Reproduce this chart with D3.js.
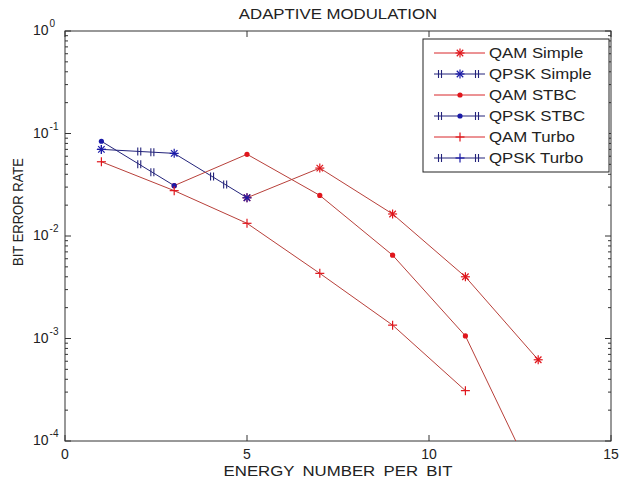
<!DOCTYPE html>
<html>
<head>
<meta charset="utf-8">
<script src="https://cdn.jsdelivr.net/npm/d3@7"></script>
<style>
  body { margin: 0; background: #fff; }
  text { font-family: "Liberation Sans", Arial, sans-serif; fill: #222; }
</style>
</head>
<body>
<div id="chart"></div>
<script>
// data
const qamSimpleX = [5, 7, 9, 11, 13];
const qamSimpleY = [0.0236, 0.046, 0.0164, 0.0040, 0.00062];
const qpskSimpleX = [1, 3, 5];
const qpskSimpleY = [0.070, 0.064, 0.0236];
const qamStbcX = [3, 5, 7, 9, 11, 13];
const qamStbcY = [0.031, 0.0627, 0.0249, 0.0065, 0.00106, 0.000035];
const qpskStbcX = [1, 3];
const qpskStbcY = [0.084, 0.031];
const qamTurboX = [1, 3, 5, 7, 9, 11];
const qamTurboY = [0.053, 0.0277, 0.0133, 0.00432, 0.00135, 0.00031];
const qpskTurboX = [1];
const qpskTurboY = [0.070];

const seriesNames = ["QAM Simple", "QPSK Simple", "QAM STBC", "QPSK STBC", "QAM Turbo", "QPSK Turbo"];
const xTicks = [0, 5, 10, 15];
const yExponents = [0, -1, -2, -3, -4];

const width = 621;
const height = 482;
const margin = { top: 31, right: 10, bottom: 41, left: 65 };
const stretch = 1.2;   // the original lettering is wider than Arial

const series = [
    { name: seriesNames[0], x: qamSimpleX, y: qamSimpleY, marker: "star", kind: "qam" },
    { name: seriesNames[1], x: qpskSimpleX, y: qpskSimpleY, marker: "star", kind: "qpsk" },
    { name: seriesNames[2], x: qamStbcX, y: qamStbcY, marker: "dot", kind: "qam" },
    { name: seriesNames[3], x: qpskStbcX, y: qpskStbcY, marker: "dot", kind: "qpsk" },
    { name: seriesNames[4], x: qamTurboX, y: qamTurboY, marker: "plus", kind: "qam" },
    { name: seriesNames[5], x: qpskTurboX, y: qpskTurboY, marker: "plus", kind: "qpsk" }
];

const lineColor = { qam: "#b8403a", qpsk: "#23237a" };
const markColor = { qam: "#e0161c", qpsk: "#1a1aa8" };

const x = d3.scaleLinear().domain([0, 15]).range([margin.left, width - margin.right]);
const y = d3.scaleLog().domain([1e-4, 1]).range([height - margin.bottom, margin.top]);

const svg = d3.select("#chart")
    .append("svg")
    .attr("width", width)
    .attr("height", height);

svg.append("defs").append("clipPath")
    .attr("id", "plot-clip")
    .append("rect")
    .attr("x", x(0))
    .attr("y", y(1))
    .attr("width", x(15) - x(0))
    .attr("height", y(1e-4) - y(1));

// Axes (MATLAB style, ticks inward on all four sides)
const yBottom = y(1e-4), yTop = y(1), xLeft = x(0), xRight = x(15);
const axisColor = "#333";

const frame = svg.append("g");
frame.append("rect")
    .attr("x", xLeft).attr("y", yTop)
    .attr("width", xRight - xLeft).attr("height", yBottom - yTop)
    .attr("fill", "none").attr("stroke", axisColor).attr("stroke-width", 1);

xTicks.forEach(t => {
    frame.append("line").attr("x1", x(t)).attr("x2", x(t)).attr("y1", yBottom).attr("y2", yBottom - 6).attr("stroke", axisColor);
    frame.append("line").attr("x1", x(t)).attr("x2", x(t)).attr("y1", yTop).attr("y2", yTop + 6).attr("stroke", axisColor);
    frame.append("text")
        .attr("x", x(t)).attr("y", yBottom + 18)
        .attr("text-anchor", "middle")
        .attr("font-size", 14)
        .text(t);
});

yExponents.forEach(e => {
    const v = Math.pow(10, e);
    frame.append("line").attr("x1", xLeft).attr("x2", xLeft + 6).attr("y1", y(v)).attr("y2", y(v)).attr("stroke", axisColor);
    frame.append("line").attr("x1", xRight).attr("x2", xRight - 6).attr("y1", y(v)).attr("y2", y(v)).attr("stroke", axisColor);
    const label = frame.append("text")
        .attr("x", 33).attr("y", y(v) + 4)
        .attr("font-size", 14);
    label.append("tspan").text("10");
    label.append("tspan").attr("dx", 1).attr("dy", -8).attr("font-size", 10).text(e);
    if (e > -4) {
        d3.range(2, 10).forEach(m => {
            const mv = m * Math.pow(10, e - 1);
            frame.append("line").attr("x1", xLeft).attr("x2", xLeft + 3).attr("y1", y(mv)).attr("y2", y(mv)).attr("stroke", axisColor);
            frame.append("line").attr("x1", xRight).attr("x2", xRight - 3).attr("y1", y(mv)).attr("y2", y(mv)).attr("stroke", axisColor);
        });
    }
});

// Titles
svg.append("text")
    .attr("transform", `translate(${(xLeft + xRight) / 2},19) scale(${stretch},1)`)
    .attr("text-anchor", "middle").attr("font-size", 14)
    .text("ADAPTIVE MODULATION");

svg.append("text")
    .attr("transform", `translate(338,476) scale(${stretch},1)`)
    .attr("text-anchor", "middle").attr("font-size", 14)
    .attr("word-spacing", 3)
    .text("ENERGY NUMBER PER BIT");

svg.append("text")
    .attr("transform", "translate(23,212) rotate(-90)")
    .attr("text-anchor", "middle").attr("font-size", 14)
    .attr("textLength", 108).attr("lengthAdjust", "spacingAndGlyphs")
    .text("BIT ERROR RATE");

// Markers
function drawMarker(g, cx, cy, type, color) {
    const s = 4.5;
    if (type === "star" || type === "plus") {
        g.append("line").attr("x1", cx - s).attr("x2", cx + s).attr("y1", cy).attr("y2", cy).attr("stroke", color).attr("stroke-width", 1.2);
        g.append("line").attr("x1", cx).attr("x2", cx).attr("y1", cy - s).attr("y2", cy + s).attr("stroke", color).attr("stroke-width", 1.2);
    }
    if (type === "star") {
        const d = s * 0.72;
        g.append("line").attr("x1", cx - d).attr("x2", cx + d).attr("y1", cy - d).attr("y2", cy + d).attr("stroke", color).attr("stroke-width", 1.2);
        g.append("line").attr("x1", cx - d).attr("x2", cx + d).attr("y1", cy + d).attr("y2", cy - d).attr("stroke", color).attr("stroke-width", 1.2);
    }
    if (type === "dot") {
        g.append("circle").attr("cx", cx).attr("cy", cy).attr("r", 2.6).attr("fill", color);
    }
}

// double tick marks on the QPSK lines
function drawHash(g, cx, cy, color) {
    [-1.5, 1.5].forEach(o => {
        g.append("line")
            .attr("x1", cx + o).attr("x2", cx + o)
            .attr("y1", cy - 4).attr("y2", cy + 4)
            .attr("stroke", color).attr("stroke-width", 1.1);
    });
}

const hashT = [0.52, 0.7];

const line = d3.line().x(d => x(d[0])).y(d => y(d[1]));
const plot = svg.append("g").attr("clip-path", "url(#plot-clip)");

series.forEach(s => {
    const pts = s.x.map((v, i) => [v, s.y[i]]);
    plot.append("path")
        .attr("d", line(pts))
        .attr("fill", "none")
        .attr("stroke", lineColor[s.kind])
        .attr("stroke-width", 1);
    if (s.kind === "qpsk") {
        for (let i = 0; i < pts.length - 1; i++) {
            const x0 = x(pts[i][0]), y0 = y(pts[i][1]);
            const x1 = x(pts[i + 1][0]), y1 = y(pts[i + 1][1]);
            hashT.forEach(t => drawHash(plot, x0 + (x1 - x0) * t, y0 + (y1 - y0) * t, lineColor.qpsk));
        }
    }
});

series.forEach(s => {
    s.x.forEach((v, i) => drawMarker(plot, x(v), y(s.y[i]), s.marker, markColor[s.kind]));
});

// Legend
const legendX = 423, legendY = 39, legendW = 186, legendH = 133, rowH = 21;
const legend = svg.append("g");
legend.append("rect")
    .attr("x", legendX).attr("y", legendY)
    .attr("width", legendW).attr("height", legendH)
    .attr("fill", "#fff").attr("stroke", "#222");

series.forEach((s, i) => {
    const ly = legendY + 14 + i * rowH;
    legend.append("line")
        .attr("x1", legendX + 11).attr("x2", legendX + 62)
        .attr("y1", ly).attr("y2", ly)
        .attr("stroke", s.kind === "qam" ? "#d8262a" : lineColor.qpsk);
    if (s.kind === "qpsk") {
        drawHash(legend, legendX + 17, ly, lineColor.qpsk);
        drawHash(legend, legendX + 54, ly, lineColor.qpsk);
    }
    drawMarker(legend, legendX + 37, ly, s.marker, markColor[s.kind]);
    legend.append("text")
        .attr("transform", `translate(${legendX + 66},${ly + 5}) scale(${stretch},1)`)
        .attr("font-size", 14)
        .text(s.name);
});
</script>
</body>
</html>
